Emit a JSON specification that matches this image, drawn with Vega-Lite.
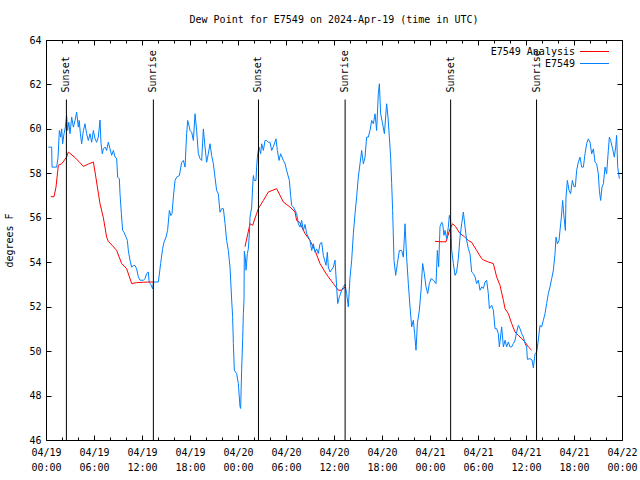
{
  "$schema": "https://vega.github.io/schema/vega-lite/v6.json",
  "width": 576,
  "height": 400,
  "autosize": "none",
  "padding": {"left": 46, "top": 40, "right": 18, "bottom": 40},
  "background": "white",
  "title": {"text": "Dew Point for E7549 on 2024-Apr-19 (time in UTC)", "font": "DejaVu Sans Mono", "fontSize": 10, "fontWeight": "normal", "color": "black", "anchor": "middle", "offset": 10},
  "config": {
    "view": {"stroke": "black", "strokeWidth": 1},
    "axis": {"domain": false, "grid": false, "labelFont": "DejaVu Sans Mono", "labelFontSize": 10, "labelColor": "black", "tickColor": "black", "tickWidth": 1, "titleFont": "DejaVu Sans Mono", "titleFontSize": 10, "titleFontWeight": "normal", "titleColor": "black"},
    "legend": {"labelFont": "DejaVu Sans Mono", "labelFontSize": 10, "labelColor": "black", "padding": 0}
  },
  "datasets": {
    "analysis": [
      {"h":0.6,"dp":56.95,"seg":1},{"h":1.0,"dp":56.95,"seg":1},{"h":1.25,"dp":57.38,"seg":1},{"h":1.54,"dp":58.36,"seg":1},{"h":1.96,"dp":58.43,"seg":1},{"h":2.58,"dp":58.73,"seg":1},{"h":2.79,"dp":58.96,"seg":1},{"h":3.5,"dp":58.75,"seg":1},{"h":4.2,"dp":58.5,"seg":1},{"h":4.67,"dp":58.31,"seg":1},{"h":5.3,"dp":58.42,"seg":1},{"h":5.92,"dp":58.51,"seg":1},{"h":6.13,"dp":58.06,"seg":1},{"h":6.75,"dp":56.63,"seg":1},{"h":7.17,"dp":56.0,"seg":1},{"h":7.58,"dp":55.13,"seg":1},{"h":7.79,"dp":54.94,"seg":1},{"h":8.3,"dp":54.75,"seg":1},{"h":8.83,"dp":54.53,"seg":1},{"h":9.46,"dp":53.94,"seg":1},{"h":10.08,"dp":53.71,"seg":1},{"h":10.71,"dp":53.04,"seg":1},{"h":11.33,"dp":53.08,"seg":1},{"h":12.2,"dp":53.1,"seg":1},{"h":13.0,"dp":53.11,"seg":1},{"h":13.42,"dp":53.11,"seg":1},
      {"h":24.88,"dp":54.7,"seg":2},{"h":25.5,"dp":55.73,"seg":2},{"h":25.83,"dp":55.66,"seg":2},{"h":26.33,"dp":56.19,"seg":2},{"h":26.54,"dp":56.41,"seg":2},{"h":27.17,"dp":56.78,"seg":2},{"h":27.79,"dp":57.16,"seg":2},{"h":28.83,"dp":57.31,"seg":2},{"h":29.67,"dp":56.71,"seg":2},{"h":30.5,"dp":56.48,"seg":2},{"h":31.13,"dp":56.26,"seg":2},{"h":31.33,"dp":55.88,"seg":2},{"h":31.7,"dp":55.8,"seg":2},{"h":32.38,"dp":55.29,"seg":2},{"h":33.0,"dp":54.98,"seg":2},{"h":33.63,"dp":54.53,"seg":2},{"h":34.25,"dp":53.94,"seg":2},{"h":34.88,"dp":53.56,"seg":2},{"h":35.29,"dp":53.34,"seg":2},{"h":35.92,"dp":53.04,"seg":2},{"h":36.54,"dp":52.74,"seg":2},{"h":37.0,"dp":52.74,"seg":2},{"h":37.4,"dp":52.89,"seg":2},
      {"h":48.63,"dp":54.94,"seg":3},{"h":49.5,"dp":54.92,"seg":3},{"h":50.0,"dp":54.92,"seg":3},{"h":50.5,"dp":55.5,"seg":3},{"h":50.83,"dp":55.73,"seg":3},{"h":51.2,"dp":55.6,"seg":3},{"h":51.75,"dp":55.29,"seg":3},{"h":52.3,"dp":55.15,"seg":3},{"h":52.79,"dp":54.98,"seg":3},{"h":53.2,"dp":54.9,"seg":3},{"h":53.83,"dp":54.53,"seg":3},{"h":54.46,"dp":54.16,"seg":3},{"h":54.7,"dp":54.1,"seg":3},{"h":55.29,"dp":54.01,"seg":3},{"h":55.92,"dp":53.94,"seg":3},{"h":56.33,"dp":53.34,"seg":3},{"h":56.75,"dp":52.96,"seg":3},{"h":57.17,"dp":52.29,"seg":3},{"h":57.38,"dp":51.91,"seg":3},{"h":57.79,"dp":51.69,"seg":3},{"h":58.21,"dp":51.24,"seg":3},{"h":58.63,"dp":50.86,"seg":3},{"h":59.04,"dp":50.71,"seg":3},{"h":59.46,"dp":50.56,"seg":3},{"h":59.88,"dp":50.41,"seg":3},{"h":60.29,"dp":50.19,"seg":3},{"h":60.71,"dp":50.04,"seg":3}
    ],
    "obs": [
      {"h":0.29,"dp":59.18},{"h":0.71,"dp":59.18},{"h":0.75,"dp":58.28},{"h":1.33,"dp":58.28},{"h":1.5,"dp":58.7},{"h":1.67,"dp":59.93},{"h":1.83,"dp":59.63},{"h":1.96,"dp":60.0},{"h":2.08,"dp":59.33},{"h":2.25,"dp":59.78},{"h":2.42,"dp":60.08},{"h":2.58,"dp":60.6},{"h":2.7,"dp":59.93},{"h":2.85,"dp":60.3},{"h":3.0,"dp":59.78},{"h":3.21,"dp":60.53},{"h":3.42,"dp":60.08},{"h":3.63,"dp":60.38},{"h":3.83,"dp":60.75},{"h":4.04,"dp":60.08},{"h":4.15,"dp":60.38},{"h":4.3,"dp":59.78},{"h":4.46,"dp":59.33},{"h":4.67,"dp":59.93},{"h":4.88,"dp":60.23},{"h":5.08,"dp":59.78},{"h":5.29,"dp":59.48},{"h":5.5,"dp":59.78},{"h":5.71,"dp":59.4},{"h":5.92,"dp":59.93},{"h":6.13,"dp":59.55},{"h":6.33,"dp":59.4},{"h":6.54,"dp":59.63},{"h":6.75,"dp":60.4},{"h":6.88,"dp":59.33},{"h":7.04,"dp":58.88},{"h":7.17,"dp":59.1},{"h":7.38,"dp":59.18},{"h":7.58,"dp":59.03},{"h":7.79,"dp":59.4},{"h":8.0,"dp":59.1},{"h":8.21,"dp":58.81},{"h":8.42,"dp":59.03},{"h":8.63,"dp":58.73},{"h":8.83,"dp":58.68},{"h":8.96,"dp":57.83},{"h":9.17,"dp":57.75},{"h":9.25,"dp":57.08},{"h":9.42,"dp":56.19},{"h":9.58,"dp":55.43},{"h":9.75,"dp":55.35},{"h":10.0,"dp":55.13},{"h":10.17,"dp":54.98},{"h":10.29,"dp":54.53},{"h":10.5,"dp":54.09},{"h":10.71,"dp":53.78},{"h":10.92,"dp":53.85},{"h":11.13,"dp":53.85},{"h":11.33,"dp":53.7},{"h":11.54,"dp":53.34},{"h":11.75,"dp":53.19},{"h":11.96,"dp":53.19},{"h":12.17,"dp":53.19},{"h":12.38,"dp":53.26},{"h":12.58,"dp":53.49},{"h":12.79,"dp":53.56},{"h":12.9,"dp":53.1},{"h":13.1,"dp":53.0},{"h":13.33,"dp":52.81},{"h":13.45,"dp":53.11},{"h":14.04,"dp":53.11},{"h":14.2,"dp":53.56},{"h":14.33,"dp":53.94},{"h":14.58,"dp":54.61},{"h":14.75,"dp":54.9},{"h":15.0,"dp":55.13},{"h":15.2,"dp":55.43},{"h":15.42,"dp":56.33},{"h":15.6,"dp":56.1},{"h":15.75,"dp":56.2},{"h":15.92,"dp":56.93},{"h":16.13,"dp":57.68},{"h":16.33,"dp":57.83},{"h":16.67,"dp":57.9},{"h":16.96,"dp":58.5},{"h":17.17,"dp":58.58},{"h":17.38,"dp":58.28},{"h":17.58,"dp":59.78},{"h":17.71,"dp":60.38},{"h":17.92,"dp":60.08},{"h":18.0,"dp":59.93},{"h":18.21,"dp":59.85},{"h":18.42,"dp":59.48},{"h":18.63,"dp":60.68},{"h":18.83,"dp":59.93},{"h":19.04,"dp":58.9},{"h":19.25,"dp":58.66},{"h":19.46,"dp":58.58},{"h":19.67,"dp":60.0},{"h":19.88,"dp":59.18},{"h":20.08,"dp":58.5},{"h":20.29,"dp":58.88},{"h":20.5,"dp":59.33},{"h":20.71,"dp":58.8},{"h":20.92,"dp":58.43},{"h":21.13,"dp":57.8},{"h":21.33,"dp":57.23},{"h":21.54,"dp":57.08},{"h":21.75,"dp":56.25},{"h":21.96,"dp":56.41},{"h":22.17,"dp":56.41},{"h":22.38,"dp":55.75},{"h":22.58,"dp":54.98},{"h":22.79,"dp":54.53},{"h":23.0,"dp":53.78},{"h":23.21,"dp":52.3},{"h":23.33,"dp":51.54},{"h":23.42,"dp":50.34},{"h":23.54,"dp":49.14},{"h":23.83,"dp":48.99},{"h":24.04,"dp":48.54},{"h":24.25,"dp":47.5},{"h":24.33,"dp":47.42},{"h":24.46,"dp":49.2},{"h":24.58,"dp":50.49},{"h":24.67,"dp":51.69},{"h":24.75,"dp":52.29},{"h":24.79,"dp":54.5},{"h":24.92,"dp":54.2},{"h":25.0,"dp":53.64},{"h":25.17,"dp":54.39},{"h":25.29,"dp":54.6},{"h":25.42,"dp":55.28},{"h":25.5,"dp":56.03},{"h":25.71,"dp":56.48},{"h":25.83,"dp":57.38},{"h":25.92,"dp":57.9},{"h":26.04,"dp":57.68},{"h":26.25,"dp":57.68},{"h":26.33,"dp":58.3},{"h":26.46,"dp":58.88},{"h":26.63,"dp":59.18},{"h":26.83,"dp":58.88},{"h":26.96,"dp":59.33},{"h":27.17,"dp":59.03},{"h":27.38,"dp":59.48},{"h":27.58,"dp":59.48},{"h":27.79,"dp":59.4},{"h":28.0,"dp":59.4},{"h":28.21,"dp":59.03},{"h":28.42,"dp":59.2},{"h":28.75,"dp":59.55},{"h":28.92,"dp":59.03},{"h":29.13,"dp":58.58},{"h":29.33,"dp":58.88},{"h":29.67,"dp":58.58},{"h":29.88,"dp":58.43},{"h":30.08,"dp":58.13},{"h":30.42,"dp":57.68},{"h":30.58,"dp":57.0},{"h":30.71,"dp":56.56},{"h":30.92,"dp":56.48},{"h":31.33,"dp":56.19},{"h":31.54,"dp":55.73},{"h":31.75,"dp":55.58},{"h":31.96,"dp":55.88},{"h":32.17,"dp":55.43},{"h":32.38,"dp":55.7},{"h":32.58,"dp":55.29},{"h":32.79,"dp":55.13},{"h":33.0,"dp":54.98},{"h":33.21,"dp":54.53},{"h":33.42,"dp":54.83},{"h":33.63,"dp":54.45},{"h":33.83,"dp":54.6},{"h":34.04,"dp":54.39},{"h":34.25,"dp":54.83},{"h":34.46,"dp":54.9},{"h":34.67,"dp":54.3},{"h":35.0,"dp":53.86},{"h":35.17,"dp":54.45},{"h":35.29,"dp":53.78},{"h":35.5,"dp":53.56},{"h":35.92,"dp":53.78},{"h":36.13,"dp":54.09},{"h":36.33,"dp":52.89},{"h":36.46,"dp":52.14},{"h":36.67,"dp":52.44},{"h":36.96,"dp":52.74},{"h":37.17,"dp":52.89},{"h":37.38,"dp":53.0},{"h":37.58,"dp":52.59},{"h":37.79,"dp":51.99},{"h":38.0,"dp":53.3},{"h":38.21,"dp":54.09},{"h":38.42,"dp":55.29},{"h":38.63,"dp":56.19},{"h":38.83,"dp":56.93},{"h":39.04,"dp":57.83},{"h":39.25,"dp":58.43},{"h":39.46,"dp":59.03},{"h":39.67,"dp":58.43},{"h":39.88,"dp":58.73},{"h":40.08,"dp":59.63},{"h":40.29,"dp":59.63},{"h":40.5,"dp":59.93},{"h":40.71,"dp":60.38},{"h":40.92,"dp":60.23},{"h":41.13,"dp":60.68},{"h":41.33,"dp":59.93},{"h":41.54,"dp":61.58},{"h":41.67,"dp":62.03},{"h":41.83,"dp":60.68},{"h":42.08,"dp":60.23},{"h":42.3,"dp":59.78},{"h":42.58,"dp":61.13},{"h":42.75,"dp":60.53},{"h":42.92,"dp":59.63},{"h":43.08,"dp":58.73},{"h":43.21,"dp":57.53},{"h":43.33,"dp":56.33},{"h":43.5,"dp":54.09},{"h":43.71,"dp":53.41},{"h":43.92,"dp":53.94},{"h":44.17,"dp":54.53},{"h":44.46,"dp":54.53},{"h":44.67,"dp":54.23},{"h":44.88,"dp":55.73},{"h":45.08,"dp":54.23},{"h":45.29,"dp":53.04},{"h":45.5,"dp":51.99},{"h":45.71,"dp":51.09},{"h":45.92,"dp":51.39},{"h":46.08,"dp":50.79},{"h":46.25,"dp":50.04},{"h":46.42,"dp":51.24},{"h":46.67,"dp":51.84},{"h":46.88,"dp":52.74},{"h":47.08,"dp":53.94},{"h":47.29,"dp":53.49},{"h":47.5,"dp":52.89},{"h":47.71,"dp":52.59},{"h":47.92,"dp":53.04},{"h":48.13,"dp":53.26},{"h":48.42,"dp":53.19},{"h":48.75,"dp":53.04},{"h":48.92,"dp":54.53},{"h":49.08,"dp":53.79},{"h":49.25,"dp":55.6},{"h":49.46,"dp":55.8},{"h":49.58,"dp":55.73},{"h":49.75,"dp":55.21},{"h":49.88,"dp":55.43},{"h":50.08,"dp":55.06},{"h":50.29,"dp":55.58},{"h":50.42,"dp":56.11},{"h":50.58,"dp":55.88},{"h":50.71,"dp":54.53},{"h":50.92,"dp":53.94},{"h":51.13,"dp":53.41},{"h":51.33,"dp":53.56},{"h":51.54,"dp":54.16},{"h":51.75,"dp":55.13},{"h":51.96,"dp":55.73},{"h":52.17,"dp":56.26},{"h":52.38,"dp":55.58},{"h":52.58,"dp":55.0},{"h":52.79,"dp":54.61},{"h":53.0,"dp":54.38},{"h":53.21,"dp":53.56},{"h":53.42,"dp":53.49},{"h":53.63,"dp":53.34},{"h":53.83,"dp":53.04},{"h":54.04,"dp":53.19},{"h":54.25,"dp":52.74},{"h":54.46,"dp":52.89},{"h":54.67,"dp":52.82},{"h":54.88,"dp":53.11},{"h":55.08,"dp":53.19},{"h":55.29,"dp":52.59},{"h":55.42,"dp":51.91},{"h":55.71,"dp":52.06},{"h":55.92,"dp":51.84},{"h":56.13,"dp":51.01},{"h":56.33,"dp":51.01},{"h":56.54,"dp":50.79},{"h":56.67,"dp":50.19},{"h":56.96,"dp":51.09},{"h":57.17,"dp":50.19},{"h":57.38,"dp":50.49},{"h":57.58,"dp":50.19},{"h":57.79,"dp":50.41},{"h":58.0,"dp":50.19},{"h":58.21,"dp":50.19},{"h":58.42,"dp":50.34},{"h":58.63,"dp":50.49},{"h":58.83,"dp":50.86},{"h":59.04,"dp":51.16},{"h":59.25,"dp":51.01},{"h":59.46,"dp":50.79},{"h":59.67,"dp":50.64},{"h":59.88,"dp":50.34},{"h":60.08,"dp":50.19},{"h":60.17,"dp":49.63},{"h":60.5,"dp":49.66},{"h":60.75,"dp":49.6},{"h":60.92,"dp":49.25},{"h":61.13,"dp":49.89},{"h":61.33,"dp":49.95},{"h":61.54,"dp":50.49},{"h":61.75,"dp":51.16},{"h":61.96,"dp":51.09},{"h":62.17,"dp":51.39},{"h":62.38,"dp":51.69},{"h":62.58,"dp":52.14},{"h":62.79,"dp":52.59},{"h":63.0,"dp":52.89},{"h":63.21,"dp":53.26},{"h":63.42,"dp":53.64},{"h":63.63,"dp":54.39},{"h":63.75,"dp":55.13},{"h":63.92,"dp":54.83},{"h":64.13,"dp":54.98},{"h":64.25,"dp":55.43},{"h":64.42,"dp":56.03},{"h":64.58,"dp":56.78},{"h":64.75,"dp":56.03},{"h":64.92,"dp":55.43},{"h":65.0,"dp":56.93},{"h":65.17,"dp":57.68},{"h":65.38,"dp":57.23},{"h":65.58,"dp":57.08},{"h":65.79,"dp":57.68},{"h":66.0,"dp":57.4},{"h":66.17,"dp":57.4},{"h":66.33,"dp":58.13},{"h":66.54,"dp":58.5},{"h":66.75,"dp":58.73},{"h":66.96,"dp":58.28},{"h":67.17,"dp":58.28},{"h":67.38,"dp":58.88},{"h":67.58,"dp":59.33},{"h":67.79,"dp":59.55},{"h":68.0,"dp":59.4},{"h":68.21,"dp":58.88},{"h":68.42,"dp":59.1},{"h":68.63,"dp":58.5},{"h":68.83,"dp":58.43},{"h":69.04,"dp":57.98},{"h":69.17,"dp":57.23},{"h":69.33,"dp":56.78},{"h":69.5,"dp":57.38},{"h":69.67,"dp":57.53},{"h":69.88,"dp":58.28},{"h":70.08,"dp":57.98},{"h":70.29,"dp":59.03},{"h":70.42,"dp":59.63},{"h":70.58,"dp":59.48},{"h":70.83,"dp":59.1},{"h":71.04,"dp":58.73},{"h":71.21,"dp":59.18},{"h":71.33,"dp":59.71},{"h":71.46,"dp":58.3},{"h":71.58,"dp":57.98},{"h":71.67,"dp":57.76}
    ],
    "sun": [
      {"h":2.55,"event":"Sunset"},{"h":13.42,"event":"Sunrise"},{"h":26.56,"event":"Sunset"},{"h":37.39,"event":"Sunrise"},{"h":50.58,"event":"Sunset"},{"h":61.32,"event":"Sunrise"}
    ]
  },
  "layer": [
    {
      "data": {"name": "analysis"},
      "mark": {"type": "line", "strokeWidth": 1, "interpolate": "linear"},
      "encoding": {
        "x": {"field": "h", "type": "quantitative", "scale": {"domain": [0, 72], "nice": false, "zero": false},
          "axis": {"orient": "bottom", "title": null, "values": [0,2,4,6,8,10,12,14,16,18,20,22,24,26,28,30,32,34,36,38,40,42,44,46,48,50,52,54,56,58,60,62,64,66,68,70,72],
            "tickSize": {"condition": {"test": "datum.value % 6 === 0", "value": -5}, "value": -3},
            "labelExpr": "datum.value % 6 === 0 ? ['04/' + (19 + floor(datum.value / 24)), (datum.value % 24 < 10 ? '0' : '') + (datum.value % 24) + ':00'] : ''",
            "labelPadding": 12, "labelLineHeight": 15, "labelOverlap": false, "labelFlush": false}},
        "y": {"field": "dp", "type": "quantitative", "scale": {"domain": [46, 64], "nice": false, "zero": false},
          "axis": {"orient": "left", "title": "degrees F", "values": [46,48,50,52,54,56,58,60,62,64], "tickSize": -5, "labelPadding": 10, "titlePadding": 14}},
        "detail": {"field": "seg"},
        "color": {"datum": "E7549 Analysis", "scale": {"domain": ["E7549 Analysis", "E7549"], "range": ["#ff0000", "#0080ff"]},
          "legend": {"orient": "none", "legendX": 543, "legendY": 6, "title": null, "symbolType": "M-2.9,0H2.9", "symbolSize": 100, "symbolStrokeWidth": 1, "labelAlign": "right", "labelOffset": -25, "rowPadding": 1, "padding": 0}}
      }
    },
    {
      "data": {"name": "obs"},
      "mark": {"type": "line", "strokeWidth": 1, "interpolate": "linear"},
      "encoding": {
        "x": {"field": "h", "type": "quantitative", "scale": {"domain": [0, 72], "nice": false, "zero": false}, "axis": null},
        "y": {"field": "dp", "type": "quantitative", "scale": {"domain": [46, 64], "nice": false, "zero": false}, "axis": null},
        "color": {"datum": "E7549"}
      }
    },
    {
      "data": {"name": "sun"},
      "mark": {"type": "rule", "color": "black", "strokeWidth": 1},
      "encoding": {
        "x": {"field": "h", "type": "quantitative", "scale": {"domain": [0, 72], "nice": false, "zero": false},
          "axis": {"orient": "top", "title": null, "labels": false, "values": [0,2,4,6,8,10,12,14,16,18,20,22,24,26,28,30,32,34,36,38,40,42,44,46,48,50,52,54,56,58,60,62,64,66,68,70,72],
            "tickSize": {"condition": {"test": "datum.value % 6 === 0", "value": -5}, "value": -3}}},
        "y": {"datum": 61.32, "type": "quantitative", "scale": {"domain": [46, 64], "nice": false, "zero": false},
          "axis": {"orient": "right", "title": null, "labels": false, "values": [46,48,50,52,54,56,58,60,62,64], "tickSize": -5}},
        "y2": {"datum": 46}
      }
    },
    {
      "data": {"name": "sun"},
      "mark": {"type": "text", "angle": 270, "align": "left", "baseline": "middle", "font": "DejaVu Sans Mono", "fontSize": 10, "color": "black"},
      "encoding": {
        "x": {"field": "h", "type": "quantitative", "scale": {"domain": [0, 72], "nice": false, "zero": false}, "axis": null},
        "y": {"datum": 61.64, "type": "quantitative", "scale": {"domain": [46, 64], "nice": false, "zero": false}, "axis": null},
        "text": {"field": "event"}
      }
    }
  ],
  "resolve": {"axis": {"x": "independent", "y": "independent"}}
}
